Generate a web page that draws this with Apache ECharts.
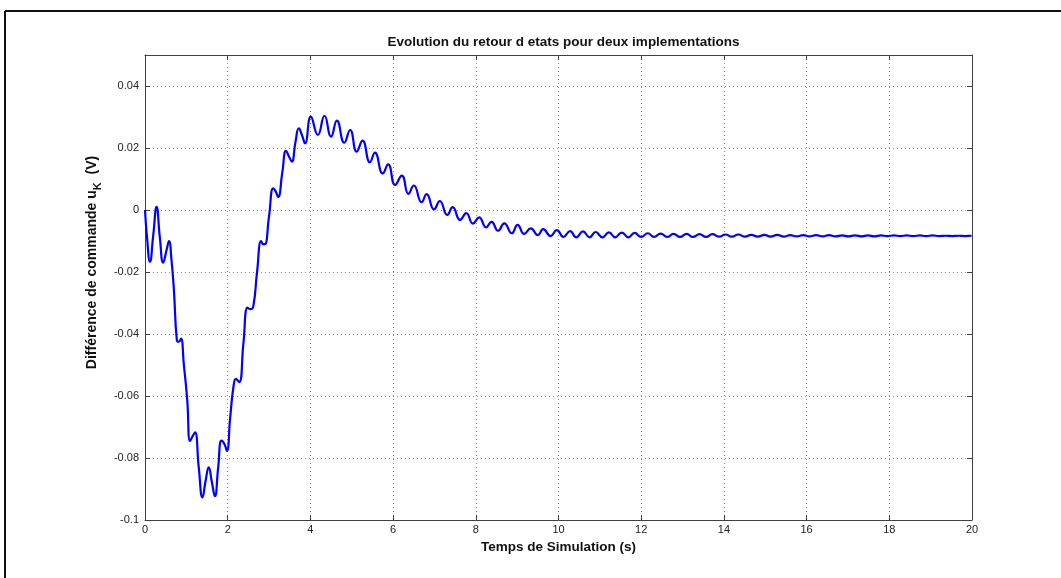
<!DOCTYPE html>
<html><head><meta charset="utf-8">
<script src="https://cdn.jsdelivr.net/npm/echarts@6/dist/echarts.min.js"></script>
<style>html,body{margin:0;padding:0;background:#fff}#c{width:1061px;height:578px}</style>
</head><body><div id="c"></div>
<script>
const chartTitle = 'Evolution du retour d etats pour deux implementations';
const xAxisName = 'Temps de Simulation (s)';
const yAxisNameParts = ['Différence de commande u', 'K', '  (V)'];
const xTickValues = [0, 2, 4, 6, 8, 10, 12, 14, 16, 18, 20];
const yTickValues = [-0.1, -0.08, -0.06, -0.04, -0.02, 0, 0.02, 0.04];

const time = [
  0, 0.05, 0.12, 0.20, 0.28, 0.36, 0.44, 0.52, 0.58, 0.64, 0.70, 0.77, 0.82, 0.87, 0.94,
  1.02, 1.09, 1.15, 1.21, 1.30, 1.39, 1.47, 1.54, 1.62, 1.69, 1.77, 1.85, 1.92, 1.98,
  2.06, 2.14, 2.20, 2.28, 2.38, 2.48, 2.55, 2.62, 2.71, 2.81, 2.86, 2.90,
  3.00, 3.10, 3.16, 3.22, 3.32, 3.41, 3.49, 3.55, 3.64, 3.72, 3.80, 3.87,
  4.01, 4.18, 4.34, 4.50, 4.64, 4.82, 4.96, 5.12, 5.26, 5.44, 5.56, 5.75, 5.88,
  6.05, 6.21, 6.37, 6.50, 6.69, 6.81, 6.99, 7.13, 7.31, 7.44, 7.62, 7.77, 7.93,
  8.08, 8.25, 8.38, 8.54, 8.69, 8.87, 9.01, 9.17, 9.33, 9.50, 9.63, 9.81, 9.96,
  10.12, 10.28, 10.43, 10.59, 10.75, 10.90, 11.06, 11.22, 11.37, 11.53, 11.69, 11.84,
  12.00, 12.16, 12.31, 12.47, 12.63, 12.78, 12.94, 13.10, 13.25, 13.41, 13.57, 13.72, 13.88,
  14.04, 14.19, 14.35, 14.51, 14.66, 14.82, 14.98, 15.13, 15.29, 15.45, 15.60, 15.76, 15.92,
  16.07, 16.23, 16.39, 16.54, 16.70, 16.86, 17.01, 17.17, 17.33, 17.48, 17.64, 17.80, 17.95,
  18.11, 18.27, 18.42, 18.58, 18.74, 18.89, 19.05, 19.21, 19.36, 19.52, 19.68, 19.83, 19.99, 20.00
];
const diffCommande = [
  0, -0.009, -0.0167, -0.008, 0.001, -0.009, -0.017, -0.013, -0.010, -0.016, -0.026, -0.0420, -0.0425, -0.0415, -0.050,
  -0.061, -0.0745, -0.073, -0.0717, -0.083, -0.0927, -0.087, -0.083, -0.088, -0.0923, -0.083, -0.0744, -0.0755, -0.0777,
  -0.067, -0.057, -0.0545, -0.0555, -0.043, -0.0315, -0.032, -0.031, -0.020, -0.0100, -0.0110, -0.0110,
  -0.002, 0.0070, 0.0060, 0.0042, 0.012, 0.0191, 0.017, 0.0156, 0.022, 0.0263, 0.024, 0.0215,
  0.0301, 0.0242, 0.0304, 0.0237, 0.0288, 0.0217, 0.0258, 0.0188, 0.0224, 0.0154, 0.0185, 0.0118, 0.0147,
  0.0081, 0.0111, 0.0052, 0.0079, 0.0025, 0.0051, 0.0002, 0.0029, -0.0016, 0.0009, -0.0032, -0.0010, -0.0044,
  -0.0024, -0.0056, -0.0038, -0.0067, -0.0043, -0.0075, -0.0048, -0.0077, -0.0059, -0.0081, -0.0062, -0.0084, -0.0065,
  -0.0087, -0.0068, -0.0088, -0.0069, -0.0088, -0.0071, -0.0088, -0.0072, -0.0088, -0.0073, -0.0088, -0.0074,
  -0.0087, -0.0075, -0.0087, -0.0076, -0.0087, -0.0077, -0.0087, -0.0077, -0.0087, -0.0078, -0.0087, -0.0078, -0.0086,
  -0.0079, -0.0086, -0.0079, -0.0086, -0.0080, -0.0086, -0.0080, -0.0086, -0.0080, -0.0086, -0.0081, -0.0085, -0.0081,
  -0.0085, -0.0081, -0.0085, -0.0081, -0.0085, -0.0082, -0.0085, -0.0082, -0.0085, -0.0082, -0.0085, -0.0082, -0.0084,
  -0.0082, -0.0084, -0.0082, -0.0084, -0.0082, -0.0084, -0.0082, -0.0084, -0.0083, -0.0084, -0.0083, -0.0084, -0.0083, -0.0083
];

const seriesData = time.map((t, i) => [t, diffCommande[i]]);
const fontFam = '"Liberation Sans", Arial, Helvetica, sans-serif';
const boxColor = '#404040';
const gridStyle = { color: '#8a8a8a', type: [1, 3], width: 1 };
const boxLine = { show: true, onZero: false, lineStyle: { color: boxColor, width: 1 } };
const boxTick = { show: true, inside: true, length: 5, lineStyle: { color: boxColor } };

const chart = echarts.init(document.getElementById('c'), null, { renderer: 'canvas' });
chart.setOption({
  animation: false,
  backgroundColor: '#fff',
  title: {
    text: chartTitle, left: 558.5, textAlign: 'center', top: 30,
    textStyle: { fontFamily: fontFam, fontSize: 13.5, fontWeight: 'bold', color: '#111' }
  },
  grid: { left: 145, top: 55, right: 89, bottom: 58, containLabel: false },
  graphic: [
    { type: 'line', shape: { x1: 5, y1: 11, x2: 1061, y2: 11 }, style: { stroke: '#111', lineWidth: 2 } },
    { type: 'line', shape: { x1: 5, y1: 11, x2: 5, y2: 578 }, style: { stroke: '#111', lineWidth: 2 } }
  ],
  xAxis: [{
    type: 'value', min: xTickValues[0], max: xTickValues[xTickValues.length - 1], interval: 2,
    name: xAxisName, nameLocation: 'middle', nameGap: 19,
    nameTextStyle: { fontFamily: fontFam, fontSize: 13.5, fontWeight: 'bold', color: '#111' },
    axisLine: boxLine, axisTick: boxTick,
    axisLabel: { fontFamily: fontFam, fontSize: 11, color: '#222', margin: 4 },
    splitLine: { show: true, lineStyle: gridStyle }
  }, {
    type: 'value', position: 'top', min: 0, max: 20, interval: 2,
    axisLine: boxLine, axisTick: boxTick,
    axisLabel: { show: false }, splitLine: { show: false }
  }],
  yAxis: [{
    type: 'value', min: -0.1, max: 0.05, interval: 0.02,
    name: '{a|' + yAxisNameParts[0] + '}{s|' + yAxisNameParts[1] + '}{a|' + yAxisNameParts[2] + '}',
    nameLocation: 'middle', nameGap: 36, nameRotate: 90,
    nameTextStyle: {
      fontFamily: fontFam, fontSize: 14, fontWeight: 'bold', color: '#111',
      padding: [0, 0, 0, 50],
      rich: {
        a: { fontFamily: fontFam, fontSize: 14, fontWeight: 'bold', color: '#111', lineHeight: 22 },
        s: { fontFamily: fontFam, fontSize: 11, fontWeight: 'bold', color: '#111', verticalAlign: 'bottom' }
      }
    },
    axisLine: boxLine, axisTick: boxTick,
    axisLabel: {
      fontFamily: fontFam, fontSize: 11, color: '#222', margin: 6,
      formatter: v => (yTickValues.some(t => Math.abs(t - v) < 1e-9) ? String(parseFloat(v.toFixed(4))) : '')
    },
    splitLine: { show: true, lineStyle: gridStyle }
  }, {
    type: 'value', position: 'right', min: -0.1, max: 0.05, interval: 0.02,
    axisLine: boxLine, axisTick: boxTick,
    axisLabel: { show: false }, splitLine: { show: false }
  }],
  series: [{
    type: 'line', data: seriesData, xAxisIndex: 0, yAxisIndex: 0,
    showSymbol: false, smooth: 0.5,
    lineStyle: { color: '#0000ff', width: 2.2 }
  }]
});
</script>
</body></html>
